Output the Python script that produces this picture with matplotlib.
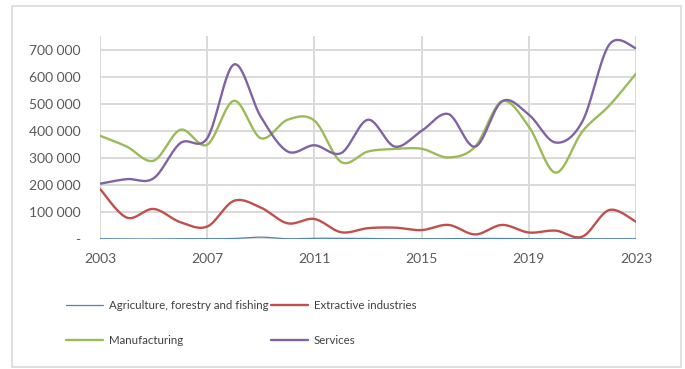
import matplotlib
matplotlib.use('Agg')

import matplotlib.pyplot as plt
import numpy as np
from matplotlib.patches import Rectangle
from matplotlib.ticker import FuncFormatter

# data
years = list(range(2003, 2024))
agriculture = [2000, 1000, 1000, 2000, 2000, 3000, 8000, 2000, 4000, 3000, 3000,
               2000, 2000, 2000, 3000, 3000, 2000, 2000, 2000, 2000, 2000]
extractive = [186000, 80000, 112000, 63000, 47000, 142000, 117000, 59000, 75000, 26000, 41000,
              43000, 34000, 53000, 18000, 53000, 25000, 32000, 10000, 108000, 65000]
manufacturing = [382000, 342000, 290000, 404000, 349000, 511000, 373000, 441000, 438000, 285000, 324000,
                 333000, 334000, 302000, 342000, 509000, 416000, 246000, 398000, 493000, 611000]
services = [205000, 222000, 225000, 355000, 373000, 645000, 452000, 324000, 347000, 318000, 441000,
            342000, 400000, 462000, 342000, 509000, 460000, 357000, 435000, 718000, 705000]

labels = ['Agriculture, forestry and fishing', 'Extractive industries', 'Manufacturing', 'Services']
colors = ['#4F81BD', '#C0504D', '#9BBB59', '#8064A2']
widths = [0.9, 1.7, 1.7, 1.7]
xticks = [2003, 2007, 2011, 2015, 2019, 2023]
yticks = [0, 100000, 200000, 300000, 400000, 500000, 600000, 700000]

plt.rcParams['font.family'] = ['Lato', 'DejaVu Sans']


def smooth(x, y, n=30):
    # bezier smoothing like the office "smoothed line" option
    x = np.asarray(x, float)
    y = np.asarray(y, float)
    px = np.concatenate([[x[0]], x, [x[-1]]])
    py = np.concatenate([[y[0]], y, [y[-1]]])
    t = np.linspace(0, 1, n)[:, None]
    outx, outy = [], []
    for i in range(1, len(px) - 2):
        p0 = np.array([px[i], py[i]])
        p3 = np.array([px[i + 1], py[i + 1]])
        p1 = p0 + (np.array([px[i + 1], py[i + 1]]) - np.array([px[i - 1], py[i - 1]])) / 6
        p2 = p3 - (np.array([px[i + 2], py[i + 2]]) - p0) / 6
        pts = ((1 - t) ** 3) * p0 + 3 * ((1 - t) ** 2) * t * p1 + 3 * (1 - t) * t ** 2 * p2 + t ** 3 * p3
        outx.append(pts[:, 0])
        outy.append(pts[:, 1])
    return np.concatenate(outx), np.concatenate(outy)


fig = plt.figure(figsize=(6.85, 3.69), dpi=100)
fig.patches.append(Rectangle((12 / 685, 2 / 369), 669 / 685, 361 / 369, transform=fig.transFigure,
                             fill=False, edgecolor='#d9d9d9', linewidth=1.2))

ax = fig.add_axes([100 / 685, 1 - 239.3 / 369, 536 / 685, 203.3 / 369])

series = [agriculture, extractive, manufacturing, services]
handles = []
for vals, lab, col, lw in zip(series, labels, colors, widths):
    sx, sy = smooth(years, vals)
    h, = ax.plot(sx, sy, color=col, lw=lw, label=lab, zorder=3, solid_capstyle='round')
    handles.append(h)

ax.set_xlim(2003, 2023)
ax.set_ylim(0, 750000)
ax.set_xticks(xticks)
ax.set_yticks(yticks)
ax.yaxis.set_major_formatter(FuncFormatter(lambda v, p: '-' if v == 0 else f'{int(v):,}'.replace(',', ' ')))
ax.grid(True, color='#d9d9d9', lw=1.4, zorder=0)
ax.set_axisbelow(True)
for s in ax.spines.values():
    s.set_visible(False)
ax.tick_params(length=0, labelsize=10, labelcolor='#595959')
ax.tick_params(axis='y', pad=14)
ax.tick_params(axis='x', pad=10)

# legend: two columns, filled row by row (agri | extractive, manufacturing | services)
leg_kw = dict(loc='upper left', frameon=False, fontsize=8.3, borderpad=0, borderaxespad=0,
              handlelength=3.2, handletextpad=0.5, labelspacing=2.12, labelcolor='#404040')
col1 = fig.legend(handles=[handles[0], handles[2]], labels=[labels[0], labels[2]],
                  bbox_to_anchor=(66 / 685, 1 - 300 / 369), **leg_kw)
col2 = fig.legend(handles=[handles[1], handles[3]], labels=[labels[1], labels[3]],
                  bbox_to_anchor=(271 / 685, 1 - 300 / 369), **leg_kw)

plt.savefig('out.png', dpi=100)
